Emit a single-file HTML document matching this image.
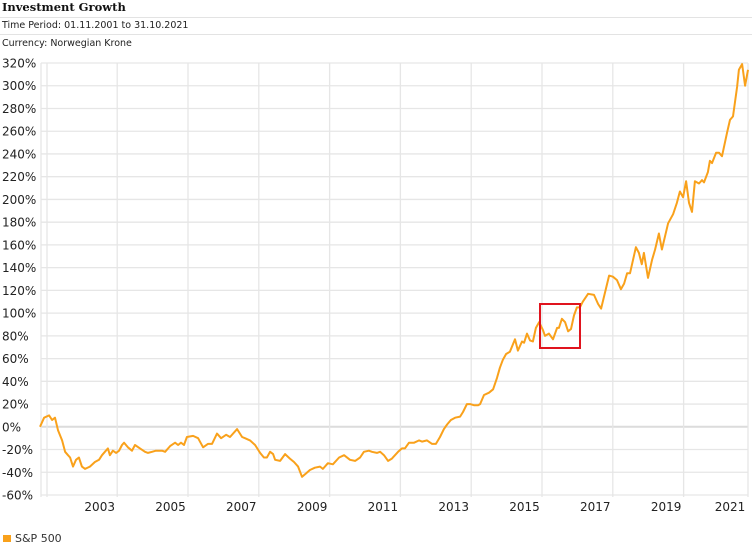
<!DOCTYPE html>
<html><head><meta charset="utf-8"><style>
body{margin:0;background:#fff;width:752px;height:546px;overflow:hidden;font-family:"DejaVu Sans","Liberation Sans",sans-serif;}
</style></head><body>
<svg id="chart" width="752" height="546" xmlns="http://www.w3.org/2000/svg">
<text x="2" y="11" font-size="11.5" font-weight="bold" fill="#111" font-family="'DejaVu Serif','Liberation Serif',serif">Investment Growth</text>
<line x1="0" y1="17.5" x2="752" y2="17.5" stroke="#e3e3e3"/>
<text x="2" y="28" font-size="9.5" fill="#222">Time Period: 01.11.2001 to 31.10.2021</text>
<line x1="0" y1="34.5" x2="752" y2="34.5" stroke="#e3e3e3"/>
<text x="2" y="46" font-size="9.5" fill="#222">Currency: Norwegian Krone</text>
<g id="grid"></g><g id="ylabels"></g><g id="xlabels"></g>
<path id="line" fill="none" stroke="#f9a11b" stroke-width="2" stroke-linejoin="round"/>
<rect x="540" y="304" width="40" height="44" fill="none" stroke="#e0141e" stroke-width="2"/>
<rect x="3" y="535" width="8" height="7" fill="#f9a11b"/>
<text x="15" y="542" font-size="11" fill="#333">S&amp;P 500</text>
</svg>
<script>
const months=[0,1.4,3.1,4.1,5.1,6.1,7.5,8.5,9.5,10.2,11.2,12.2,13.2,14.2,15.3,16.9,18.6,20,21,22,23,23.7,24.7,25.8,26.8,27.8,28.5,29.8,31.2,32.2,33.9,35.6,36.6,38,39.3,41.4,42.4,44.1,45.8,46.8,47.8,48.8,49.8,51.9,53.6,55.3,56.9,58.3,60,61.4,63.1,64.4,66.8,68.5,69.5,71.2,72.9,74.6,75.9,76.9,78,79,79.7,81.4,83.1,84.7,86.1,87.5,88.8,90.2,91.5,93.2,94.9,95.9,97.6,99.3,101.4,103.1,105.1,106.8,108.5,109.8,111.5,112.5,114.2,115.3,116.6,118,119.3,121.4,122.7,123.7,125.1,126.8,128.5,129.5,131.2,132.9,134.2,135.6,136.9,138,139.3,140.7,142.4,143.4,144.7,145.8,147.1,148.5,149.2,150.5,152.2,153.6,154.9,155.9,156.9,158,159.3,161,162,163.4,164.1,165.1,166.1,167.1,168.1,169.2,170.5,171.2,172.5,173.9,175.3,175.9,176.9,178,179,180,181,182,183,184,185.8,187.8,189.2,190.2,192.9,194.2,195.6,196.9,198,199,200,202,203,204,204.7,206.1,207.5,208.5,209.8,210.8,212.9,214.6,215.9,216.9,218,219,220,221,222,223.4,224.4,225.1,226.4,227.1,227.8,229.2,230.2,231.2,232.9,233.9,234.9,236.3,236.9,238,239,240];
const values=[0,8,10,6,8,-3,-12,-22,-25,-27,-35,-29,-27,-35,-37,-35,-31,-29,-25,-22,-19,-25,-21,-23,-21,-16,-14,-18,-21,-16,-19,-22,-23,-22,-21,-21,-22,-17,-14,-16,-14,-16,-9,-8,-10,-18,-15,-15,-6,-10,-7,-9,-2,-9,-10,-12,-16,-23,-27,-27,-22,-24,-29,-30,-24,-28,-31,-35,-44,-41,-38,-36,-35,-37,-32,-33,-27,-25,-29,-30,-27,-22,-21,-22,-23,-22,-25,-30,-28,-22,-19,-19,-14,-14,-12,-13,-12,-15,-15,-9,-2,2,6,8,9,13,20,20,19,19,20,28,30,33,43,52,59,64,66,77,67,75,74,82,76,75,87,92,85,80,82,77,87,87,95,92,84,86,98,105,105,110,117,116,108,104,133,132,129,121,126,135,135,158,153,143,153,131,147,156,170,156,179,187,197,207,202,216,197,189,216,214,217,215,224,234,232,241,241,238,259,270,273,299,314,319,300,314];
const yTicks=[-60,-40,-20,0,20,40,60,80,100,120,140,160,180,200,220,240,260,280,300,320];
const xTickMonths=[26,50,74,98,122,146,170,194,218,242];
const xTickLabels=["2003","2005","2007","2009","2011","2013","2015","2017","2019","2021"];
const X=m=>40+m*(708/240), Y=v=>426.8-v*(432/380);
const NS="http://www.w3.org/2000/svg";
const grid=document.getElementById('grid'),yl=document.getElementById('ylabels'),xl=document.getElementById('xlabels');
function mk(tag,attrs,parent){const e=document.createElementNS(NS,tag);for(const k in attrs)e.setAttribute(k,attrs[k]);parent.appendChild(e);return e;}
yTicks.forEach(t=>{
 const l=mk('line',{x1:41,x2:748,y1:Y(t),y2:Y(t),stroke:t===0?'#dcdcdc':'#e6e6e6','stroke-width':t===0?2:1.3},grid);
 
 
 const tx=mk('text',{x:2,y:Y(t)+4.5,'font-size':12,fill:'#222'},yl);tx.textContent=t+'%';
 
 
});
[41,47,748].forEach(px=>{const l=mk('line',{x1:px,x2:px,y1:63,y2:497,stroke:'#e6e6e6','stroke-width':1.3},grid);
 
 });
xTickMonths.forEach((m,i)=>{
 if(m<=240){const l=mk('line',{x1:X(m)+0.5,x2:X(m)+0.5,y1:63,y2:497,stroke:'#e6e6e6','stroke-width':1.3},grid);
 
 }
 const tx=mk('text',{x:Math.min(X(m)-17,730),y:511,'font-size':12,fill:'#222','text-anchor':'middle'},xl);tx.textContent=xTickLabels[i];
 
 
});
document.getElementById('line').setAttribute('d',months.map((m,i)=>(i?'L':'M')+X(m).toFixed(1)+','+Y(values[i]).toFixed(1)).join(''));
</script>
</body></html>
